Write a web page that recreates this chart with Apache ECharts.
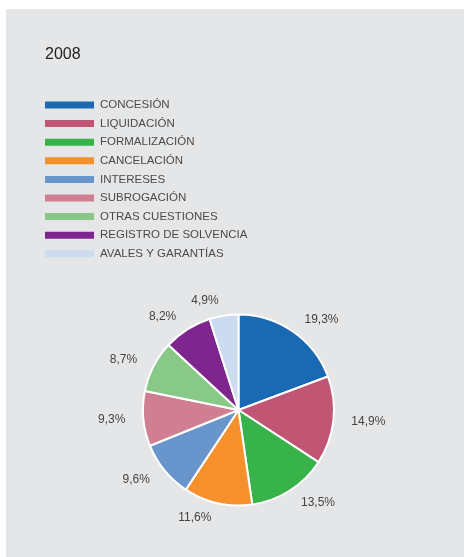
<!DOCTYPE html>
<html>
<head>
<meta charset="utf-8">
<script src="https://cdn.jsdelivr.net/npm/echarts@6/dist/echarts.min.js"></script>
<style>
html,body{margin:0;padding:0;background:#ffffff;}
#panel{position:absolute;left:6px;top:9px;width:458px;height:548px;background:#e5e6e8;}
#chart{position:absolute;left:0;top:0;width:464px;height:557px;}
</style>
</head>
<body>
<div id="panel"></div>
<div id="chart"></div>
<script>
const categories = ['CONCESIÓN','LIQUIDACIÓN','FORMALIZACIÓN','CANCELACIÓN','INTERESES','SUBROGACIÓN','OTRAS CUESTIONES','REGISTRO DE SOLVENCIA','AVALES Y GARANTÍAS'];
const values = [19.3, 14.9, 13.5, 11.6, 9.6, 9.3, 8.7, 8.2, 4.9];
const colors = ['#1a6ab3','#c05673','#37b34a','#f6902d','#6895cc','#d07f93','#88c987','#7e268e','#ccdbef'];
const title = '2008';

const chart = echarts.init(document.getElementById('chart'), null, {renderer:'canvas'});
chart.setOption({
  animation: false,
  color: colors,
  title: {
    text: title, left: 45, top: 47, padding: 0,
    textStyle: {fontFamily: 'Liberation Sans, Arial, sans-serif', fontSize: 16, fontWeight: 'normal', color: '#222'}
  },
  legend: {
    orient: 'vertical', left: 45, top: 99, padding: 0,
    icon: 'rect', itemWidth: 49, itemHeight: 7, itemGap: 6.6,
    itemStyle: {borderWidth: 0},
    data: categories,
    textStyle: {fontFamily: 'Liberation Sans, Arial, sans-serif', fontSize: 11.5, color: '#4a4a4a', padding: [0, 0, 0, 1]}
  },
  series: [{
    type: 'pie',
    center: [238.5, 410],
    radius: 95.5,
    startAngle: 90,
    clockwise: true,
    avoidLabelOverlap: false,
    itemStyle: {borderColor: '#ffffff', borderWidth: 2},
    label: {
      show: true, position: 'outside', distanceToLabelLine: 0,
      fontFamily: 'Liberation Sans, Arial, sans-serif', fontSize: 12, color: '#444',
      formatter: p => p.value.toFixed(1).replace('.', ',') + '%'
    },
    labelLine: {show: false, length: 15, length2: 3},
    emphasis: {disabled: true},
    data: categories.map((c, i) => ({name: c, value: values[i]}))
  }]
});
</script>
</body>
</html>
